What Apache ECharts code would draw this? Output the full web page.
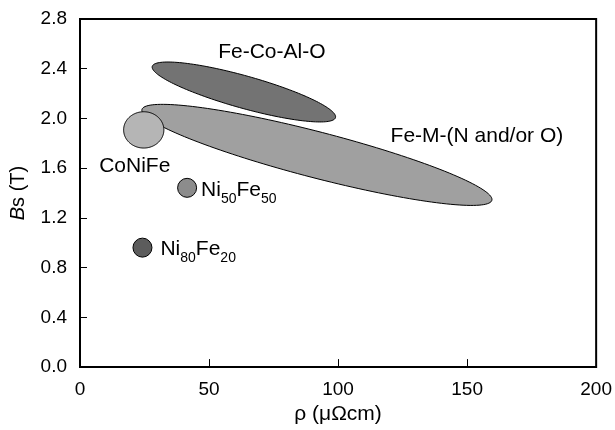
<!DOCTYPE html>
<html>
<head>
<meta charset="utf-8">
<script src="https://cdn.jsdelivr.net/npm/echarts@6/dist/echarts.min.js"></script>
<style>
  html, body { margin: 0; padding: 0; background: #fff; }
  #chart { width: 615px; height: 430px; }
</style>
</head>
<body>
<div id="chart"></div>
<script>
// Film families drawn as ellipses: centre, end of the major semi-axis, minor semi-axis (T)
const shapeNames = ['Fe-M-(N and/or O)', 'Fe-Co-Al-O', 'CoNiFe'];
const shapeCenterRho = [91.8, 63.5, 24.7];
const shapeCenterBs = [1.707, 2.213, 1.908];
const shapeTipRho = [159.6, 99.0, 32.5];
const shapeTipBs = [1.342, 2.007, 1.908];
const shapeHalfWidthBs = [0.185, 0.13, 0.146];

// Single-composition alloys drawn as dots (name, subscripts)
const dotBase = [['Ni', 'Fe'], ['Ni', 'Fe']];
const dotSubs = [['50', '50'], ['80', '20']];
const dotRho = [41.5, 24.2];
const dotBs = [1.442, 0.961];

// Axis ticks
const rhoTicks = [0, 50, 100, 150, 200];
const bsTicks = [0.0, 0.4, 0.8, 1.2, 1.6, 2.0, 2.4, 2.8];

const FONT = '"Liberation Sans", Arial, Helvetica, sans-serif';
const shapeFill = ['#a0a0a0', '#737373', '#b5b5b5'];
const shapeLabelOffset = [[160, -19], [28, -40], [-9, 36]];
const dotFill = ['#8c8c8c', '#5c5c5c'];
const dotLabelGap = [4, 8];

const subRich = {
  n: { fontSize: 21, fontFamily: FONT, color: '#000', lineHeight: 26, padding: [0, 0, 6, 0] },
  s: { fontSize: 14, fontFamily: FONT, color: '#000', lineHeight: 26, padding: [12, 0, 0, 0] }
};

const shapeData = shapeNames.map((n, i) => [
  shapeCenterRho[i], shapeCenterBs[i], shapeTipRho[i], shapeTipBs[i], shapeHalfWidthBs[i]
]);

function renderEllipse(params, api) {
  const i = params.dataIndex;
  const c = api.coord([api.value(0), api.value(1)]);
  const t = api.coord([api.value(2), api.value(3)]);
  const b = api.size([0, api.value(4)])[1];
  const ux = t[0] - c[0], uy = t[1] - c[1];
  const a = Math.hypot(ux, uy);
  const nx = -uy / a * b, ny = ux / a * b;
  const pts = [];
  const N = 160;
  for (let k = 0; k < N; k++) {
    const th = 2 * Math.PI * k / N;
    const ct = Math.cos(th), st = Math.sin(th);
    pts.push([c[0] + ux * ct + nx * st, c[1] + uy * ct + ny * st]);
  }
  return {
    type: 'group',
    children: [
      {
        type: 'polygon',
        shape: { points: pts },
        style: { fill: shapeFill[i], stroke: '#000', lineWidth: 1 }
      },
      {
        type: 'text',
        x: c[0] + shapeLabelOffset[i][0],
        y: c[1] + shapeLabelOffset[i][1],
        style: {
          text: shapeNames[i],
          fill: '#000',
          font: '21px ' + FONT,
          align: 'center',
          verticalAlign: 'middle'
        }
      }
    ]
  };
}

function dotLabel(i) {
  return '{n|' + dotBase[i][0] + '}{s|' + dotSubs[i][0] + '}{n|' + dotBase[i][1] + '}{s|' + dotSubs[i][1] + '}';
}

const chart = echarts.init(document.getElementById('chart'), null, { renderer: 'canvas' });
chart.setOption({
  animation: false,
  backgroundColor: '#fff',
  grid: {
    left: 78, right: 18, top: 19, bottom: 60,
    show: true, borderColor: '#000', borderWidth: 2, backgroundColor: 'transparent'
  },
  xAxis: {
    type: 'value',
    min: rhoTicks[0], max: rhoTicks[rhoTicks.length - 1], interval: 50,
    name: 'ρ (μΩcm)',
    nameLocation: 'middle',
    nameGap: 36,
    nameTextStyle: { fontSize: 21, fontFamily: FONT, color: '#000' },
    axisLine: { show: true, lineStyle: { color: '#000', width: 2 } },
    axisTick: { show: true, inside: true, length: 8, lineStyle: { color: '#000', width: 1 } },
    axisLabel: { fontSize: 19, fontFamily: FONT, color: '#000', margin: 13 },
    splitLine: { show: false }
  },
  yAxis: {
    type: 'value',
    min: bsTicks[0], max: bsTicks[bsTicks.length - 1], interval: 0.4,
    name: '{i|B}s (T)',
    nameLocation: 'middle',
    nameRotate: 90,
    nameGap: 52,
    nameTextStyle: {
      fontSize: 20, fontFamily: FONT, color: '#000',
      rich: { i: { fontSize: 20, fontFamily: FONT, fontStyle: 'italic', color: '#000' } }
    },
    axisLine: { show: true, lineStyle: { color: '#000', width: 2 } },
    axisTick: { show: true, inside: true, length: 7, lineStyle: { color: '#000', width: 1 } },
    axisLabel: {
      fontSize: 19, fontFamily: FONT, color: '#000', margin: 13,
      formatter: v => v.toFixed(1)
    },
    splitLine: { show: false }
  },
  series: [
    {
      type: 'custom',
      renderItem: renderEllipse,
      data: shapeData,
      clip: false,
      silent: true,
      z: 2
    },
    {
      type: 'scatter',
      symbol: 'circle',
      symbolSize: 19,
      z: 3,
      silent: true,
      data: dotRho.map((r, i) => ({
        value: [r, dotBs[i]],
        itemStyle: { color: dotFill[i], borderColor: '#000', borderWidth: 1, opacity: 1 },
        label: {
          show: true,
          position: 'right',
          distance: dotLabelGap[i],
          offset: [0, 5],
          formatter: dotLabel(i),
          rich: subRich
        }
      }))
    }
  ]
});
</script>
</body>
</html>
